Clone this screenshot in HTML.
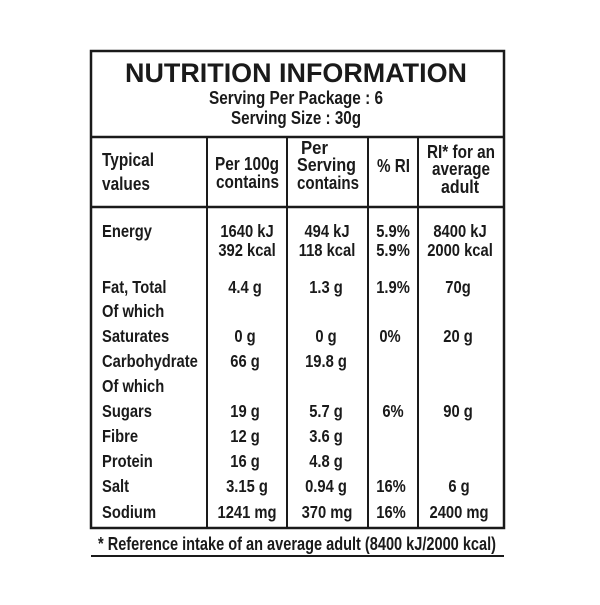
<!DOCTYPE html>
<html><head><style>
html,body{margin:0;padding:0;background:#fff;}
svg text{font-family:"Liberation Sans",sans-serif;font-weight:bold;fill:#1a1a1a;}
</style></head><body>
<svg width="600" height="600" viewBox="0 0 600 600" xmlns="http://www.w3.org/2000/svg">
<rect width="600" height="600" fill="#fff"/>
<g stroke="#1a1a1a" fill="none">
<rect x="91" y="51" width="413" height="477" stroke-width="2.5"/>
<line x1="91" y1="137" x2="504" y2="137" stroke-width="2.5"/>
<line x1="91" y1="207" x2="504" y2="207" stroke-width="2.5"/>
<line x1="207" y1="137" x2="207" y2="528" stroke-width="2"/>
<line x1="287" y1="137" x2="287" y2="528" stroke-width="2"/>
<line x1="368" y1="137" x2="368" y2="528" stroke-width="2"/>
<line x1="418" y1="137" x2="418" y2="528" stroke-width="2"/>
<line x1="91" y1="556" x2="504" y2="556" stroke-width="2"/>
</g>
<text x="125" y="82" font-size="27" textLength="342" lengthAdjust="spacingAndGlyphs">NUTRITION INFORMATION</text>
<text x="209" y="104" font-size="18" textLength="174" lengthAdjust="spacingAndGlyphs">Serving Per Package : 6</text>
<text x="231" y="124" font-size="18" textLength="130" lengthAdjust="spacingAndGlyphs">Serving Size : 30g</text>

<g font-size="18">
<text x="102" y="166" textLength="52" lengthAdjust="spacingAndGlyphs">Typical</text>
<text x="102" y="190" textLength="48" lengthAdjust="spacingAndGlyphs">values</text>
<text x="215" y="170" textLength="64" lengthAdjust="spacingAndGlyphs">Per 100g</text>
<text x="216" y="188" textLength="63" lengthAdjust="spacingAndGlyphs">contains</text>
<text x="301" y="154" textLength="27" lengthAdjust="spacingAndGlyphs">Per</text>
<text x="297" y="171" textLength="59" lengthAdjust="spacingAndGlyphs">Serving</text>
<text x="297" y="189" textLength="62" lengthAdjust="spacingAndGlyphs">contains</text>
<text x="377" y="172" textLength="33" lengthAdjust="spacingAndGlyphs">% RI</text>
<text x="427" y="158" textLength="68" lengthAdjust="spacingAndGlyphs">RI* for an</text>
<text x="432" y="175" textLength="58" lengthAdjust="spacingAndGlyphs">average</text>
<text x="441" y="193" textLength="38" lengthAdjust="spacingAndGlyphs">adult</text>
</g>

<g font-size="18">
<text transform="translate(102,237) scale(0.82,1)">Energy</text>
<text transform="translate(102,293) scale(0.82,1)">Fat, Total</text>
<text transform="translate(102,317) scale(0.82,1)">Of which</text>
<text transform="translate(102,342) scale(0.82,1)">Saturates</text>
<text transform="translate(102,367) scale(0.82,1)">Carbohydrate</text>
<text transform="translate(102,392) scale(0.82,1)">Of which</text>
<text transform="translate(102,417) scale(0.82,1)">Sugars</text>
<text transform="translate(102,442) scale(0.82,1)">Fibre</text>
<text transform="translate(102,467) scale(0.82,1)">Protein</text>
<text transform="translate(102,492) scale(0.82,1)">Salt</text>
<text transform="translate(102,518) scale(0.82,1)">Sodium</text>
</g>

<g font-size="18" text-anchor="middle">
<!-- col1 center 247 -->
<text transform="translate(247,237) scale(0.82,1)">1640 kJ</text>
<text transform="translate(247,256) scale(0.82,1)">392 kcal</text>
<text transform="translate(245,293) scale(0.82,1)">4.4 g</text>
<text transform="translate(245,342) scale(0.82,1)">0 g</text>
<text transform="translate(245,367) scale(0.82,1)">66 g</text>
<text transform="translate(245,417) scale(0.82,1)">19 g</text>
<text transform="translate(245,442) scale(0.82,1)">12 g</text>
<text transform="translate(245,467) scale(0.82,1)">16 g</text>
<text transform="translate(247,492) scale(0.82,1)">3.15 g</text>
<text transform="translate(247,518) scale(0.82,1)">1241 mg</text>
<!-- col2 center 327 -->
<text transform="translate(327,237) scale(0.82,1)">494 kJ</text>
<text transform="translate(327,256) scale(0.82,1)">118 kcal</text>
<text transform="translate(326,293) scale(0.82,1)">1.3 g</text>
<text transform="translate(326,342) scale(0.82,1)">0 g</text>
<text transform="translate(326,367) scale(0.82,1)">19.8 g</text>
<text transform="translate(326,417) scale(0.82,1)">5.7 g</text>
<text transform="translate(326,442) scale(0.82,1)">3.6 g</text>
<text transform="translate(326,467) scale(0.82,1)">4.8 g</text>
<text transform="translate(326,492) scale(0.82,1)">0.94 g</text>
<text transform="translate(327,518) scale(0.82,1)">370 mg</text>
<!-- col3 center 393 -->
<text transform="translate(393,237) scale(0.82,1)">5.9%</text>
<text transform="translate(393,256) scale(0.82,1)">5.9%</text>
<text transform="translate(393,293) scale(0.82,1)">1.9%</text>
<text transform="translate(390,342) scale(0.82,1)">0%</text>
<text transform="translate(393,417) scale(0.82,1)">6%</text>
<text transform="translate(391,492) scale(0.82,1)">16%</text>
<text transform="translate(391,518) scale(0.82,1)">16%</text>
<!-- col4 center 460 -->
<text transform="translate(460,237) scale(0.82,1)">8400 kJ</text>
<text transform="translate(460,256) scale(0.82,1)">2000 kcal</text>
<text transform="translate(458,293) scale(0.82,1)">70g</text>
<text transform="translate(458,342) scale(0.82,1)">20 g</text>
<text transform="translate(458,417) scale(0.82,1)">90 g</text>
<text transform="translate(459,492) scale(0.82,1)">6 g</text>
<text transform="translate(459,518) scale(0.82,1)">2400 mg</text>
</g>

<text x="98" y="550" font-size="18" textLength="398" lengthAdjust="spacingAndGlyphs">* Reference intake of an average adult (8400 kJ/2000 kcal)</text>
</svg>
</body></html>
